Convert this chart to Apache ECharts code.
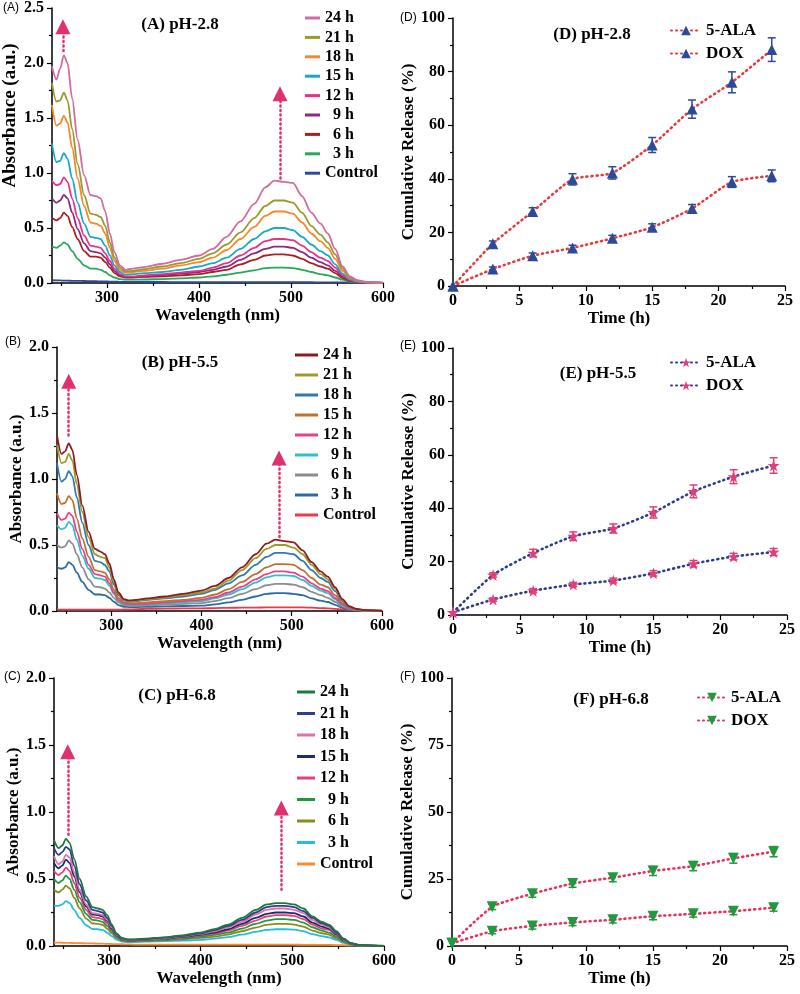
<!DOCTYPE html>
<html><head><meta charset="utf-8">
<script src="https://cdn.jsdelivr.net/npm/echarts@6/dist/echarts.min.js"></script>
<style>html,body{margin:0;padding:0;background:#fff}#c{width:800px;height:994px}</style>
</head><body><div id="c"></div>
<script>
// ---------------- DATA ----------------
const WAVELENGTH = [240,245,249,253,257,262,268,275,282,288,293,298,303,308,314,320,328,340,360,380,400,415,430,445,460,472,482,492,502,512,522,532,540,548,556,564,572,582,600];
const SPEC_LABELS = ['24 h','21 h','18 h','15 h','12 h','  9 h','  6 h','  3 h','Control'];

// (A) pH-2.8
const A_24H = [1.97,1.85,1.95,2.07,2.00,1.68,1.30,0.98,0.80,0.79,0.77,0.65,0.45,0.28,0.16,0.12,0.13,0.145,0.175,0.21,0.25,0.31,0.42,0.56,0.72,0.87,0.93,0.92,0.91,0.79,0.64,0.54,0.45,0.31,0.15,0.06,0.025,0.01,0.0];
const A_21H = [1.82,1.65,1.66,1.73,1.66,1.40,1.08,0.80,0.63,0.62,0.60,0.52,0.37,0.23,0.14,0.105,0.11,0.125,0.15,0.18,0.22,0.27,0.35,0.46,0.59,0.70,0.75,0.75,0.73,0.64,0.52,0.44,0.37,0.26,0.13,0.05,0.02,0.008,0.0];
const A_18H = [1.62,1.43,1.45,1.52,1.46,1.23,0.95,0.70,0.55,0.54,0.52,0.45,0.32,0.20,0.12,0.095,0.10,0.11,0.13,0.16,0.19,0.23,0.30,0.40,0.51,0.61,0.65,0.65,0.63,0.55,0.45,0.38,0.32,0.22,0.11,0.045,0.018,0.007,0.0];
const A_15H = [1.27,1.10,1.11,1.18,1.13,0.95,0.73,0.54,0.42,0.41,0.40,0.34,0.25,0.16,0.10,0.075,0.08,0.09,0.10,0.12,0.15,0.18,0.23,0.31,0.40,0.47,0.50,0.50,0.48,0.42,0.35,0.29,0.25,0.17,0.085,0.035,0.014,0.005,0.0];
const A_12H = [0.93,0.89,0.90,0.96,0.92,0.77,0.59,0.43,0.34,0.33,0.32,0.27,0.20,0.13,0.08,0.06,0.06,0.07,0.08,0.095,0.11,0.14,0.18,0.25,0.32,0.38,0.40,0.40,0.39,0.34,0.28,0.23,0.20,0.14,0.07,0.03,0.012,0.005,0.0];
const A_9H  = [0.77,0.73,0.75,0.80,0.77,0.64,0.49,0.36,0.29,0.28,0.27,0.23,0.17,0.11,0.07,0.055,0.055,0.06,0.07,0.085,0.10,0.12,0.15,0.21,0.27,0.31,0.33,0.33,0.32,0.28,0.23,0.19,0.16,0.11,0.06,0.025,0.01,0.004,0.0];
const A_6H  = [0.59,0.57,0.59,0.64,0.61,0.51,0.40,0.29,0.24,0.24,0.23,0.19,0.14,0.09,0.06,0.05,0.05,0.055,0.06,0.07,0.08,0.10,0.12,0.17,0.21,0.25,0.26,0.26,0.25,0.22,0.18,0.15,0.13,0.09,0.045,0.02,0.008,0.003,0.0];
const A_3H  = [0.33,0.32,0.34,0.37,0.35,0.29,0.22,0.16,0.13,0.13,0.12,0.10,0.07,0.05,0.035,0.03,0.03,0.032,0.036,0.042,0.05,0.06,0.075,0.095,0.115,0.135,0.14,0.14,0.135,0.12,0.10,0.08,0.07,0.05,0.03,0.012,0.005,0.002,0.0];
const A_CONTROL = [0.025,0.024,0.023,0.022,0.021,0.02,0.019,0.018,0.017,0.016,0.015,0.014,0.013,0.012,0.011,0.01,0.01,0.009,0.009,0.008,0.008,0.008,0.008,0.008,0.008,0.008,0.008,0.008,0.008,0.007,0.007,0.006,0.006,0.005,0.005,0.004,0.004,0.003,0.003];

// (B) pH-5.5
const B_24H = [1.33,1.19,1.21,1.27,1.22,1.03,0.80,0.60,0.47,0.45,0.43,0.36,0.24,0.14,0.09,0.08,0.085,0.095,0.11,0.13,0.155,0.19,0.25,0.33,0.43,0.51,0.54,0.53,0.52,0.46,0.37,0.30,0.26,0.18,0.09,0.035,0.015,0.006,0.0];
const B_21H = [1.26,1.12,1.13,1.19,1.14,0.96,0.75,0.56,0.43,0.41,0.40,0.33,0.22,0.13,0.085,0.075,0.08,0.09,0.10,0.12,0.14,0.17,0.23,0.31,0.40,0.47,0.50,0.50,0.48,0.43,0.35,0.28,0.24,0.17,0.085,0.033,0.014,0.005,0.0];
const B_18H = [1.12,0.98,1.00,1.06,1.02,0.86,0.67,0.50,0.38,0.37,0.35,0.30,0.20,0.12,0.08,0.07,0.075,0.085,0.095,0.11,0.13,0.16,0.21,0.27,0.35,0.41,0.44,0.44,0.43,0.38,0.31,0.25,0.22,0.15,0.075,0.03,0.012,0.005,0.0];
const B_15H = [0.89,0.81,0.82,0.87,0.84,0.70,0.55,0.41,0.31,0.30,0.29,0.24,0.16,0.10,0.065,0.058,0.06,0.065,0.075,0.085,0.10,0.125,0.165,0.22,0.28,0.33,0.355,0.355,0.35,0.31,0.25,0.20,0.18,0.12,0.06,0.025,0.01,0.004,0.0];
const B_12H = [0.74,0.69,0.70,0.745,0.72,0.60,0.47,0.35,0.28,0.27,0.26,0.21,0.14,0.085,0.057,0.05,0.05,0.055,0.065,0.075,0.085,0.105,0.14,0.185,0.24,0.28,0.30,0.30,0.29,0.26,0.21,0.17,0.15,0.10,0.05,0.02,0.008,0.003,0.0];
const B_9H  = [0.65,0.62,0.63,0.675,0.65,0.54,0.42,0.32,0.25,0.245,0.235,0.19,0.13,0.08,0.05,0.045,0.045,0.05,0.058,0.066,0.075,0.095,0.125,0.165,0.215,0.255,0.27,0.27,0.265,0.235,0.19,0.155,0.135,0.09,0.045,0.018,0.007,0.003,0.0];
const B_6H  = [0.50,0.48,0.49,0.535,0.51,0.43,0.33,0.24,0.185,0.18,0.17,0.14,0.10,0.065,0.045,0.04,0.04,0.043,0.048,0.054,0.06,0.075,0.097,0.13,0.165,0.195,0.205,0.205,0.20,0.18,0.145,0.12,0.10,0.07,0.035,0.014,0.006,0.002,0.0];
const B_3H  = [0.33,0.32,0.33,0.37,0.35,0.29,0.22,0.16,0.125,0.125,0.12,0.10,0.07,0.045,0.032,0.03,0.03,0.032,0.035,0.038,0.04,0.05,0.065,0.085,0.11,0.13,0.135,0.135,0.13,0.12,0.095,0.078,0.068,0.047,0.024,0.01,0.004,0.002,0.0];
const B_CONTROL = [0.01,0.01,0.01,0.01,0.01,0.01,0.01,0.01,0.01,0.01,0.01,0.01,0.01,0.01,0.012,0.012,0.014,0.016,0.018,0.02,0.02,0.022,0.024,0.025,0.026,0.027,0.028,0.028,0.028,0.027,0.025,0.022,0.02,0.016,0.012,0.009,0.007,0.005,0.004];

// (C) pH-6.8
const C_24H = [0.79,0.73,0.75,0.80,0.77,0.65,0.50,0.37,0.29,0.28,0.27,0.23,0.16,0.095,0.06,0.05,0.05,0.055,0.065,0.08,0.10,0.125,0.16,0.21,0.27,0.31,0.32,0.32,0.31,0.28,0.22,0.18,0.16,0.11,0.055,0.022,0.009,0.004,0.0];
const C_21H = [0.73,0.68,0.70,0.74,0.72,0.60,0.46,0.34,0.27,0.26,0.25,0.21,0.15,0.09,0.057,0.048,0.048,0.052,0.062,0.076,0.095,0.118,0.15,0.195,0.25,0.29,0.30,0.30,0.29,0.26,0.21,0.17,0.15,0.10,0.052,0.021,0.008,0.004,0.0];
const C_18H = [0.67,0.61,0.63,0.68,0.66,0.55,0.42,0.31,0.245,0.24,0.23,0.195,0.14,0.085,0.054,0.045,0.045,0.05,0.058,0.072,0.09,0.11,0.14,0.18,0.235,0.27,0.28,0.28,0.27,0.245,0.195,0.16,0.14,0.095,0.048,0.02,0.008,0.003,0.0];
const C_15H = [0.62,0.58,0.60,0.645,0.62,0.52,0.40,0.295,0.235,0.23,0.22,0.185,0.13,0.08,0.051,0.043,0.043,0.047,0.055,0.068,0.085,0.10,0.125,0.165,0.21,0.24,0.25,0.25,0.245,0.22,0.175,0.145,0.13,0.088,0.045,0.018,0.007,0.003,0.0];
const C_12H = [0.56,0.53,0.55,0.585,0.56,0.47,0.36,0.27,0.215,0.21,0.20,0.17,0.12,0.074,0.048,0.04,0.04,0.044,0.051,0.063,0.08,0.093,0.115,0.15,0.19,0.22,0.23,0.23,0.225,0.20,0.16,0.13,0.12,0.08,0.04,0.016,0.006,0.003,0.0];
const C_9H  = [0.50,0.47,0.49,0.525,0.50,0.42,0.325,0.24,0.195,0.19,0.18,0.15,0.11,0.068,0.045,0.038,0.038,0.041,0.047,0.057,0.07,0.083,0.10,0.13,0.165,0.19,0.20,0.20,0.195,0.175,0.14,0.115,0.10,0.07,0.035,0.014,0.006,0.002,0.0];
const C_6H  = [0.42,0.40,0.42,0.45,0.43,0.36,0.28,0.205,0.168,0.165,0.158,0.13,0.095,0.06,0.04,0.035,0.035,0.038,0.043,0.05,0.06,0.07,0.085,0.11,0.137,0.158,0.165,0.165,0.16,0.145,0.115,0.095,0.085,0.058,0.03,0.012,0.005,0.002,0.0];
const C_3H  = [0.30,0.30,0.31,0.335,0.32,0.27,0.21,0.155,0.127,0.125,0.12,0.10,0.073,0.048,0.033,0.03,0.03,0.032,0.036,0.04,0.045,0.055,0.066,0.085,0.105,0.12,0.125,0.125,0.122,0.11,0.088,0.073,0.065,0.045,0.024,0.01,0.004,0.002,0.0];
const C_CONTROL = [0.025,0.025,0.024,0.024,0.023,0.022,0.021,0.02,0.019,0.018,0.017,0.016,0.015,0.014,0.013,0.012,0.011,0.01,0.01,0.01,0.01,0.01,0.01,0.01,0.01,0.01,0.01,0.01,0.01,0.009,0.009,0.008,0.008,0.007,0.006,0.005,0.004,0.003,0.003];

// arrows (wavelength, from, to)
const A_ARROWS = [[252,2.11,2.33],[488,0.95,1.72]];
const B_ARROWS = [[253,1.33,1.74],[486,0.56,1.16]];
const C_ARROWS = [[255,0.83,1.45],[488,0.42,1.03]];

// release profiles
const TIME_H = [0,3,6,9,12,15,18,21,24];
const RELEASE_LABELS = ['5-ALA','DOX'];
const D_ALA = [0,15.8,27.8,39.8,42.2,52.6,66.0,76.0,88.2];
const D_ALA_ERR = [0,1.0,1.4,2.1,2.3,2.8,3.4,3.9,4.4];
const D_DOX = [0,6.3,11.3,14.2,17.8,21.9,28.9,38.8,41.1];
const D_DOX_ERR = [0,0.8,1.0,1.0,1.1,1.3,1.5,2.0,2.2];
const E_ALA = [1,15.0,23.2,29.5,32.4,38.4,46.3,51.8,56.0];
const E_ALA_ERR = [0,0.8,1.4,1.6,1.7,2.1,2.4,2.6,2.9];
const E_DOX = [1,5.8,9.1,11.4,12.9,15.6,19.2,21.9,23.6];
const E_DOX_ERR = [0,0.6,0.8,0.8,0.9,1.0,1.2,1.2,1.3];
const F_ALA = [1,14.6,19.5,23.3,25.5,28.0,29.8,32.7,35.2];
const F_ALA_ERR = [0,1.0,1.3,1.4,1.5,1.7,1.7,1.8,1.9];
const F_DOX = [1,5.5,7.5,8.8,9.8,11.1,12.0,13.0,14.3];
const F_DOX_ERR = [0,0.9,1.2,1.2,1.2,1.3,1.2,1.3,1.3];

const WL_TICKS = [300,400,500,600];
const WL_MINOR = [250,350,450,550];

// ---------------- STYLE ----------------
const SERIF = '"Liberation Serif","Times New Roman",serif';
const SANS = '"Liberation Sans",Arial,sans-serif';
const A_COLORS = ['#d46a9f','#9a9a2a','#f5882a','#17a9c9','#e8318a','#8a2a80','#a82020','#28a85a','#2b4a9a'];
const B_COLORS = ['#8e1b22','#9e9a28','#2f78b8','#c07030','#e8408a','#2ec0d0','#8c8c8c','#2a6aa8','#f03848'];
const C_COLORS = ['#1c7a3c','#2c3e8e','#e070a8','#1e2c6e','#e8407a','#1f9a3a','#8a8a20','#22bde0','#ff8a2a'];
const ARROW_COLOR = '#e0306e';

const grids = [
  {left:51, top:8, width:332, height:275},   // A
  {left:57, top:347, width:325, height:264}, // B
  {left:54, top:678, width:330, height:268}, // C
  {left:453, top:18, width:332, height:268}, // D
  {left:453, top:348, width:334, height:267},// E
  {left:452, top:678, width:335, height:268} // F
];

const axisLine = {show:true, onZero:false, lineStyle:{color:'#000', width:1.5}};
const tickLbl = (size) => ({color:'#000', fontFamily:SERIF, fontWeight:'bold', fontSize:size});

function wlAxis(g, nameGap) {
  return {type:'value', gridIndex:g, min:240, max:600, name:'Wavelength (nm)', nameLocation:'middle', nameGap:nameGap,
    nameTextStyle:{color:'#000', fontFamily:SERIF, fontWeight:'bold', fontSize:17},
    axisLine:axisLine, splitLine:{show:false},
    axisTick:{show:true, inside:false, length:5, customValues:WL_TICKS, lineStyle:{color:'#000', width:1.2}},
    axisLabel:{show:true, customValues:WL_TICKS, margin:7, ...tickLbl(16)}};
}
function wlMinor(g) {
  return {type:'value', gridIndex:g, min:240, max:600, position:'bottom',
    axisLine:{show:false}, splitLine:{show:false}, axisLabel:{show:false},
    axisTick:{show:true, inside:false, length:3, customValues:WL_MINOR, lineStyle:{color:'#000', width:1.2}}};
}
function timeAxis(g, nameGap) {
  return {type:'value', gridIndex:g, min:0, max:25, interval:5, name:'Time (h)', nameLocation:'middle', nameGap:nameGap,
    nameTextStyle:{color:'#000', fontFamily:SERIF, fontWeight:'bold', fontSize:17},
    axisLine:axisLine, splitLine:{show:false},
    axisTick:{show:true, inside:false, length:5, lineStyle:{color:'#000', width:1.2}},
    minorTick:{show:true, splitNumber:2, length:3, lineStyle:{color:'#000', width:1.2}},
    axisLabel:{margin:7, ...tickLbl(16)}};
}
function absAxis(g, max, fs, pad) {
  return {type:'value', gridIndex:g, min:0, max:max, interval:0.5, name:'Absorbance (a.u.)', nameLocation:'middle', nameGap:31,
    nameTextStyle:{color:'#000', fontFamily:SERIF, fontWeight:'bold', fontSize:fs, padding:pad},
    axisLine:axisLine, splitLine:{show:false},
    axisTick:{show:true, inside:false, length:5, lineStyle:{color:'#000', width:1.2}},
    minorTick:{show:true, splitNumber:2, length:3, lineStyle:{color:'#000', width:1.2}},
    axisLabel:{margin:8, formatter:v=>v.toFixed(1), ...tickLbl(16)}};
}
function relAxis(g, interval) {
  return {type:'value', gridIndex:g, min:0, max:100, interval:interval, name:'Cumulative Release (%)', nameLocation:'middle', nameGap:32,
    nameTextStyle:{color:'#000', fontFamily:SERIF, fontWeight:'bold', fontSize:17},
    axisLine:axisLine, splitLine:{show:false},
    axisTick:{show:true, inside:false, length:5, lineStyle:{color:'#000', width:1.2}},
    minorTick:{show:true, splitNumber:2, length:3, lineStyle:{color:'#000', width:1.2}},
    axisLabel:{margin:8, ...tickLbl(16)}};
}

function spectra(prefix, dataArr, colors, g, arrows) {
  const out = [];
  for (let k = dataArr.length - 1; k >= 0; k--) {
    const vals = dataArr[k];
    const s = {type:'line', name: prefix + '|' + SPEC_LABELS[k], xAxisIndex:g, yAxisIndex:g,
      data: WAVELENGTH.map((w,i)=>[w, vals[i]]), symbol:'none', showSymbol:false, smooth:0.3, smoothMonotone:'x',
      lineStyle:{width:1.8, color:colors[k]}, itemStyle:{color:colors[k]}, animation:false};
    if (k === 0) {
      s.markLine = {silent:true, animation:false, symbol:['none','triangle'], symbolSize:15,
        label:{show:false}, lineStyle:{color:ARROW_COLOR, width:2.5, type:[1,3.5], cap:'round'},
        itemStyle:{color:ARROW_COLOR},
        data: arrows.map(a => [{coord:[a[0], a[1]]}, {coord:[a[0], a[2]]}])};
    }
    out.push(s);
  }
  return out;
}

const STAR = 'path://M50,0 L61,35 L98,35 L68,57 L79,91 L50,70 L21,91 L32,57 L2,35 L39,35 Z';
const DOWN_TRI = 'path://M0,0 L100,0 L50,90 Z';

function release(name, g, vals, lineColor, sym, symColor, symSize) {
  return {type:'line', name:name, xAxisIndex:g, yAxisIndex:g, data: TIME_H.map((t,i)=>[t, vals[i]]),
    symbol:sym, symbolSize:symSize, showSymbol:true, smooth:0.2,
    itemStyle:{color:symColor}, lineStyle:{color:lineColor, width:2.6, type:[1,4], cap:'round'}, z:5, animation:false};
}
function errBars(g, vals, errs, color) {
  return {type:'custom', xAxisIndex:g, yAxisIndex:g, silent:true, z:4, animation:false,
    data: TIME_H.map((t,i)=>[t, vals[i]-errs[i], vals[i]+errs[i]]).filter((d,i)=>errs[i]>0),
    encode:{x:0, y:[1,2]},
    renderItem:(p, api) => {
      const lo = api.coord([api.value(0), api.value(1)]);
      const hi = api.coord([api.value(0), api.value(2)]);
      const w = 4;
      const st = {stroke:color, lineWidth:1.5};
      return {type:'group', children:[
        {type:'line', shape:{x1:lo[0], y1:lo[1], x2:hi[0], y2:hi[1]}, style:st},
        {type:'line', shape:{x1:lo[0]-w, y1:lo[1], x2:lo[0]+w, y2:lo[1]}, style:st},
        {type:'line', shape:{x1:hi[0]-w, y1:hi[1], x2:hi[0]+w, y2:hi[1]}, style:st}
      ]};
    }};
}

const series = [].concat(
  spectra('A', [A_24H,A_21H,A_18H,A_15H,A_12H,A_9H,A_6H,A_3H,A_CONTROL], A_COLORS, 0, A_ARROWS),
  spectra('B', [B_24H,B_21H,B_18H,B_15H,B_12H,B_9H,B_6H,B_3H,B_CONTROL], B_COLORS, 1, B_ARROWS),
  spectra('C', [C_24H,C_21H,C_18H,C_15H,C_12H,C_9H,C_6H,C_3H,C_CONTROL], C_COLORS, 2, C_ARROWS),
  [
    errBars(3, D_ALA, D_ALA_ERR, '#2a4a9c'), errBars(3, D_DOX, D_DOX_ERR, '#2a4a9c'),
    release('D|' + RELEASE_LABELS[0], 3, D_ALA, '#e8383a', 'triangle', '#2a4a9c', 11),
    release('D|' + RELEASE_LABELS[1], 3, D_DOX, '#e8383a', 'triangle', '#2a4a9c', 11),
    errBars(4, E_ALA, E_ALA_ERR, '#e0407a'), errBars(4, E_DOX, E_DOX_ERR, '#e0407a'),
    release('E|' + RELEASE_LABELS[0], 4, E_ALA, '#2c3d8f', STAR, '#e0407a', 12),
    release('E|' + RELEASE_LABELS[1], 4, E_DOX, '#2c3d8f', STAR, '#e0407a', 12),
    errBars(5, F_ALA, F_ALA_ERR, '#1f9a3f'), errBars(5, F_DOX, F_DOX_ERR, '#1f9a3f'),
    release('F|' + RELEASE_LABELS[0], 5, F_ALA, '#e8305a', DOWN_TRI, '#1f9a3f', 11),
    release('F|' + RELEASE_LABELS[1], 5, F_DOX, '#e8305a', DOWN_TRI, '#1f9a3f', 11)
  ]
);

const legTxt = {color:'#000', fontFamily:SERIF, fontWeight:'bold', fontSize:16, lineHeight:16};
function specLegend(prefix, left, top, w, gap) {
  return {orient:'vertical', left:left, top:top, itemWidth:w, itemHeight:3, itemGap:gap, icon:'rect', selectedMode:false,
    data: SPEC_LABELS.map(l => prefix + '|' + l), formatter: n => n.split('|')[1], textStyle:legTxt};
}
function relLegend(prefix, left, top, w) {
  return {orient:'vertical', left:left, top:top, itemWidth:w, itemHeight:12, itemGap:6, selectedMode:false,
    data: RELEASE_LABELS.map(l => prefix + '|' + l), formatter: n => n.split('|')[1], textStyle:{...legTxt, fontSize:17}};
}

const titleFont = 'bold 17px ' + SERIF;
const tagFont = '12px ' + SANS;
const txt = (x, y, text, font, align) => ({type:'text', x:x, y:y, silent:true,
  style:{text:text, font:font, fill:'#000', align:align || 'center', verticalAlign:'middle'}});

const option = {
  backgroundColor:'#fff',
  animation:false,
  grid: grids,
  xAxis: [wlAxis(0, 24), wlAxis(1, 24), wlAxis(2, 24), timeAxis(3, 24), timeAxis(4, 24), timeAxis(5, 24),
          wlMinor(0), wlMinor(1), wlMinor(2)],
  yAxis: [absAxis(0, 2.5, 19, [0,0,0,60]), absAxis(1, 2.0, 17), absAxis(2, 2.0, 17),
          relAxis(3, 20), relAxis(4, 20), relAxis(5, 25)],
  legend: [
    specLegend('A', 300, 5, 15, 3.4),
    specLegend('B', 290, 342, 23, 4),
    specLegend('C', 292, 679, 18, 5.5),
    relLegend('D', 665, 17, 30),
    relLegend('E', 665, 349, 30),
    relLegend('F', 692, 684, 28)
  ],
  graphic: [
    txt(180, 25, '(A) pH-2.8', titleFont), txt(180, 363, '(B) pH-5.5', titleFont), txt(177, 696, '(C) pH-6.8', titleFont),
    txt(592, 35, '(D) pH-2.8', titleFont), txt(598, 374, '(E) pH-5.5', titleFont), txt(611, 700, '(F) pH-6.8', titleFont),
    txt(3, 8, '(A)', tagFont, 'left'), txt(5, 342, '(B)', tagFont, 'left'), txt(4, 677, '(C)', tagFont, 'left'),
    txt(400, 18, '(D)', tagFont, 'left'), txt(400, 346, '(E)', tagFont, 'left'), txt(400, 677, '(F)', tagFont, 'left')
  ],
  series: series
};

const chart = echarts.init(document.getElementById('c'), null, {renderer:'canvas'});
chart.setOption(option);
</script>
</body></html>
